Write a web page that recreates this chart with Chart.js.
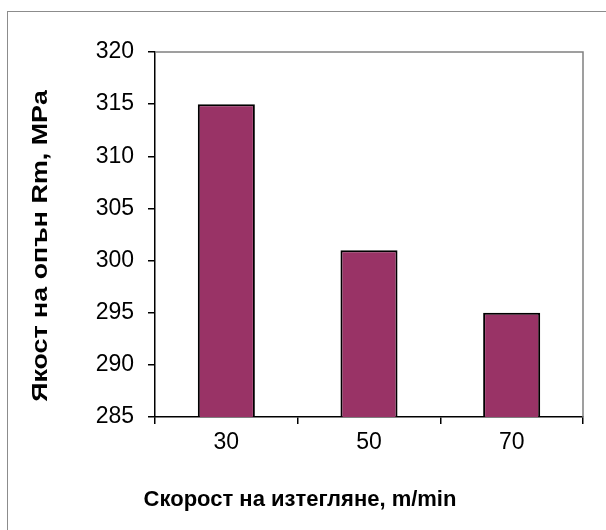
<!DOCTYPE html>
<html>
<head>
<meta charset="utf-8">
<script src="https://cdn.jsdelivr.net/npm/chart.js@4/dist/chart.umd.min.js"></script>
<style>
  html, body { margin: 0; padding: 0; background: #fff; }
  #wrap { width: 606px; height: 530px; }
</style>
</head>
<body>
<div id="wrap"><canvas id="c" width="606" height="530"></canvas></div>
<script>
// Drawing speed (m/min) and tensile strength Rm (MPa)
const speeds = ['30', '50', '70'];
const strength = [315, 301, 295];
const yMin = 285;
const yMax = 320;
const yStep = 5;

const xTitle = 'Скорост на изтегляне, m/min';
const yTitle = 'Якост на опън Rm, MPa';

const FONT = '"Liberation Sans", Arial, sans-serif';

// Outer frame, grey plot border and the two axis titles
const decorations = {
  id: 'decorations',
  beforeDraw(chart) {
    const ctx = chart.ctx;
    ctx.save();
    ctx.fillStyle = '#fff';
    ctx.fillRect(0, 0, chart.width, chart.height);
    ctx.strokeStyle = '#8c8c8c';
    ctx.lineWidth = 1;
    ctx.strokeRect(7.5, 11.5, 800, 800);
    ctx.restore();
  },
  beforeDatasetsDraw(chart) {
    const { ctx, chartArea: a } = chart;
    ctx.save();
    ctx.strokeStyle = '#808080';
    ctx.lineWidth = 1.5;
    ctx.beginPath();
    ctx.moveTo(a.left, a.top);
    ctx.lineTo(a.right, a.top);
    ctx.lineTo(a.right, a.bottom);
    ctx.stroke();
    ctx.restore();
  },
  afterDraw(chart) {
    const ctx = chart.ctx;
    ctx.save();
    ctx.fillStyle = '#000';
    ctx.font = 'bold 22px ' + FONT;
    ctx.textAlign = 'center';
    ctx.textBaseline = 'middle';
    ctx.fillText(xTitle, 300, 500);
    // vertical title is drawn slightly stretched along its length
    ctx.translate(41, 246);
    ctx.rotate(-Math.PI / 2);
    ctx.scale(1.22, 1);
    ctx.fillText(yTitle, 0, 0);
    ctx.restore();
  }
};

new Chart(document.getElementById('c'), {
  type: 'bar',
  data: {
    labels: speeds,
    datasets: [{
      data: strength,
      backgroundColor: '#993366',
      borderColor: '#000',
      borderWidth: 2,
      borderSkipped: false,
      categoryPercentage: 0.4,
      barPercentage: 1.0
    }]
  },
  options: {
    responsive: false,
    animation: false,
    devicePixelRatio: 1,
    layout: { padding: { left: 0, top: 52, right: 23, bottom: 0 } },
    plugins: {
      legend: { display: false },
      tooltip: { enabled: false }
    },
    scales: {
      x: {
        afterFit(scale) { scale.height = 113; },
        border: { color: '#000', width: 1.5 },
        grid: {
          offset: true,
          drawOnChartArea: false,
          drawTicks: true,
          tickLength: 7,
          color: '#000',
          lineWidth: 1.5
        },
        ticks: {
          color: '#000',
          padding: 5,
          font: { family: FONT, size: 23 }
        }
      },
      y: {
        min: yMin,
        max: yMax,
        afterFit(scale) { scale.width = 155; },
        border: { color: '#000', width: 1.5 },
        grid: {
          drawOnChartArea: false,
          drawTicks: true,
          tickLength: 7,
          color: '#000',
          lineWidth: 1.5
        },
        ticks: {
          stepSize: yStep,
          color: '#000',
          padding: 14,
          font: { family: FONT, size: 23 }
        }
      }
    }
  },
  plugins: [decorations]
});
</script>
</body>
</html>
